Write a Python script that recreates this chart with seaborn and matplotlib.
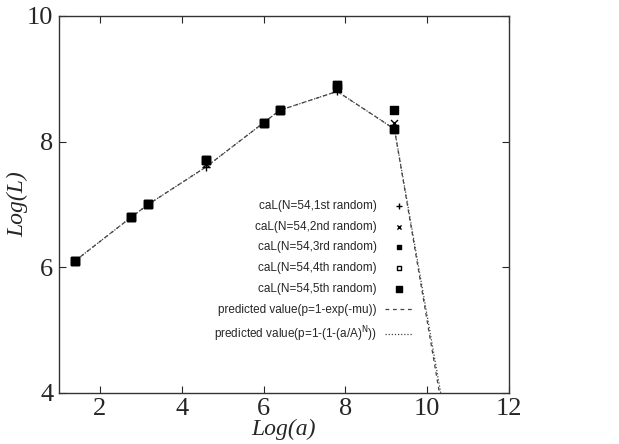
import numpy as np
import pandas as pd
import matplotlib
matplotlib.use("Agg")
import matplotlib.pyplot as plt
import seaborn as sns

# ---- data ----
log_a = [1.39, 2.77, 3.18, 4.60, 6.00, 6.40, 7.80, 9.20]
rand1 = [6.10, 6.80, 7.00, 7.60, 8.30, 8.50, 8.80, 8.20]
rand2 = [6.10, 6.80, 7.00, 7.65, 8.30, 8.50, 8.85, 8.30]
rand3 = [6.10, 6.80, 7.00, 7.70, 8.30, 8.50, 8.90, 8.20]
rand4 = [6.10, 6.80, 7.00, 7.70, 8.30, 8.50, 8.90, 8.20]
rand5 = [6.10, 6.80, 7.00, 7.70, 8.30, 8.50, 8.85, 8.50]

pred_x = [1.39, 2.77, 3.18, 4.60, 6.00, 6.40, 7.80, 9.20, 10.60]
pred_exp = [6.10, 6.80, 7.00, 7.60, 8.30, 8.50, 8.80, 8.20, 2.85]
pred_pow = [6.10, 6.80, 7.00, 7.60, 8.30, 8.50, 8.80, 8.20, 3.00]

series_labels = ["caL(N=54,1st random)", "caL(N=54,2nd random)", "caL(N=54,3rd random)",
                 "caL(N=54,4th random)", "caL(N=54,5th random)"]
pred_labels = ["predicted value(p=1-exp(-mu))", "predicted value(p=1-(1-(a/A)$^{\\mathrm{N}}$))"]
x_ticks = [2, 4, 6, 8, 10, 12]
y_ticks = [4, 6, 8, 10]

sns.set_style("ticks")
plt.rcParams["font.family"] = ["Liberation Serif", "DejaVu Serif"]

fig = plt.figure(figsize=(6.19, 4.44), dpi=100)
ax = fig.add_axes([0.0953, 0.115, 0.727, 0.849])

pred_df = pd.DataFrame({"x": pred_x, "exp": pred_exp, "pow": pred_pow})
sns.lineplot(data=pred_df, x="x", y="exp", ax=ax, color="#444444", lw=0.9,
             linestyle=(0, (3, 3)), label=pred_labels[0], sort=False, zorder=2)
sns.lineplot(data=pred_df, x="x", y="pow", ax=ax, color="#444444", lw=0.9,
             linestyle=(0, (1, 1.5)), label=pred_labels[1], sort=False, zorder=2)

markers = ["+", "x", "s", "s", "s"]
mfc = ["black", "black", "black", "white", "black"]
sizes = [40, 25, 30, 30, 40]
zorders = [5, 5, 4, 3, 4]
for lab, ys, m, fc, s, z in zip(series_labels, [rand1, rand2, rand3, rand4, rand5], markers, mfc, sizes, zorders):
    df = pd.DataFrame({"x": log_a, "y": ys})
    sns.scatterplot(data=df, x="x", y="y", ax=ax, marker=m, s=s, color="black",
                    facecolor=fc if m == "s" else None, edgecolor="black",
                    linewidth=1.0, label=lab, zorder=z)

ax.set_xlim(1, 12)
ax.set_ylim(4, 10)
ax.set_xticks(x_ticks)
ax.set_yticks(y_ticks)
ax.tick_params(direction="in", length=5, width=0.8, labelsize=19, top=True, right=True)
ax.tick_params(axis="y", pad=4)
ax.tick_params(axis="x", pad=4)
for sp in ax.spines.values():
    sp.set_linewidth(1.0)
    sp.set_color("#333333")
ax.set_xlabel("Log(a)", fontsize=17, style="italic", labelpad=-1)
ax.set_ylabel("Log(L)", fontsize=17, style="italic", labelpad=-1)

handles, labels = ax.get_legend_handles_labels()
order = [labels.index(l) for l in series_labels + pred_labels]
leg = ax.legend([handles[i] for i in order], [labels[i] for i in order],
                loc="upper left", bbox_to_anchor=(0.32, 0.54), frameon=False,
                markerfirst=False, prop={"family": ["Liberation Sans", "DejaVu Sans"], "size": 8.5},
                handlelength=2.4, labelspacing=0.74, handletextpad=0.7, markerscale=0.6)
for t in leg.get_texts():
    t.set_ha("right")
leg._legend_box.align = "right"

fig.savefig("out.png", dpi=100, facecolor="white")
